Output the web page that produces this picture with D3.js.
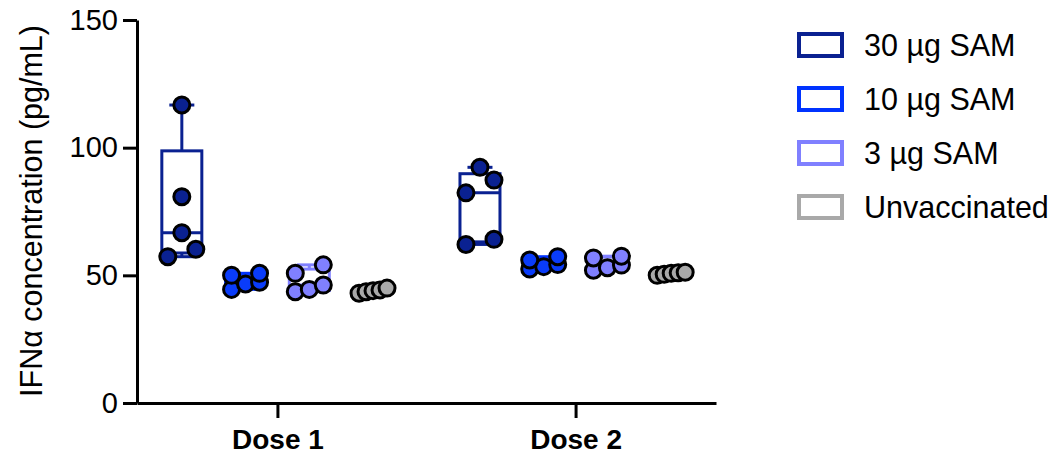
<!DOCTYPE html>
<html>
<head>
<meta charset="utf-8">
<script src="https://cdn.jsdelivr.net/npm/d3@7"></script>
<style>
  body { margin: 0; background: #fff; }
  svg { display: block; font-family: Arial, "Liberation Sans", Helvetica, sans-serif; }
</style>
</head>
<body>
<div class="div-chart"></div>
<script>
// categories
const doses = ["Dose 1", "Dose 2"];
const groups = ["30 µg SAM", "10 µg SAM", "3 µg SAM", "Unvaccinated"];
const yTicks = [0, 50, 100, 150];

// IFNa values (pg/mL), one list of 5 animals per group
const dose1Values = [
  [116.7, 80.8, 66.7, 60.2, 57.3],
  [50.8, 50.0, 47.3, 46.6, 44.5],
  [54.1, 50.8, 46.2, 44.5, 43.6],
  [45.0, 44.3, 44.0, 43.6, 43.0]
];
const dose2Values = [
  [92.3, 87.3, 82.3, 64.1, 62.1],
  [57.3, 56.0, 54.2, 53.4, 52.5],
  [57.5, 56.8, 54.0, 53.0, 52.0],
  [51.2, 51.0, 50.8, 50.4, 50.0]
];

const boxColors = ["#0A2191", "#0033FF", "#8080FF", "#A9A9A9"];
const dotColors = ["#0A2191", "#0A3CFA", "#8080FF", "#A9A9A9"];

const width = 1057,
  height = 457;

const svg = d3
  .select(".div-chart")
  .append("svg")
  .attr("width", width)
  .attr("height", height)
  .attr("viewBox", `0 0 ${width} ${height}`);

const y = d3.scaleLinear().domain([0, 150]).range([403, 20]);
const x = d3.scalePoint().domain(doses).range([137, 716]).padding(0.471);
const xInner = d3.scalePoint().domain(groups).range([-95.6, 95.6]);
const color = d3.scaleOrdinal().domain(groups).range(boxColors);
const dotColor = d3.scaleOrdinal().domain(groups).range(dotColors);

// prism-like quartiles ((n+1)p interpolation)
function quantile(sorted, p) {
  const h = (sorted.length + 1) * p - 1;
  const lo = Math.max(0, Math.floor(h)),
    hi = Math.min(sorted.length - 1, Math.ceil(h));
  return sorted[lo] + (sorted[hi] - sorted[lo]) * (h - lo);
}

// build table from the arrays
const table = [];
[dose1Values, dose2Values].forEach((vals, di) => {
  vals.forEach((v, gi) => {
    const s = v.slice().sort((a, b) => a - b);
    table.push({
      dose: doses[di],
      group: groups[gi],
      values: s,
      min: s[0],
      q1: quantile(s, 0.25),
      med: quantile(s, 0.5),
      q3: quantile(s, 0.75),
      max: s[s.length - 1]
    });
  });
});

const boxW = 40,
  capW = 25,
  spread = 14,
  binH = 8,
  dotD = 17;

// spread points that sit close together sideways
function layoutDots(d) {
  const cx = x(d.dose) + xInner(d.group);
  const rows = [];
  d.values.forEach((v) => {
    const py = y(v);
    const last = rows[rows.length - 1];
    const gap = last ? last[0].py - py : Infinity;
    if (last && (gap < binH || (last.length === 1 && gap < dotD))) last.push({ v, py });
    else rows.push([{ v, py }]);
  });
  const out = [];
  rows.forEach((row) => {
    row.forEach((p, i) => {
      const off = row.length === 1 ? 0 : -spread + (i * 2 * spread) / (row.length - 1);
      out.push({ group: d.group, cx: cx + off, cy: p.py });
    });
  });
  return out;
}

const plotG = svg.append("g").attr("id", "plot");

const boxG = plotG
  .selectAll(".box")
  .data(table)
  .join("g")
  .attr("class", "box")
  .attr("transform", (d) => `translate(${x(d.dose) + xInner(d.group)},0)`)
  .attr("stroke", (d) => color(d.group))
  .attr("stroke-width", 3)
  .attr("fill", "none");

// whiskers
boxG.append("line").attr("y1", (d) => y(d.max)).attr("y2", (d) => y(d.q3));
boxG.append("line").attr("y1", (d) => y(d.min)).attr("y2", (d) => y(d.q1));
boxG.append("line").attr("x1", -capW / 2).attr("x2", capW / 2)
  .attr("y1", (d) => y(d.max)).attr("y2", (d) => y(d.max));
boxG.append("line").attr("x1", -capW / 2).attr("x2", capW / 2)
  .attr("y1", (d) => y(d.min)).attr("y2", (d) => y(d.min));
boxG.append("rect")
  .attr("x", -boxW / 2)
  .attr("width", boxW)
  .attr("y", (d) => y(d.q3))
  .attr("height", (d) => y(d.q1) - y(d.q3));
boxG.append("line").attr("x1", -boxW / 2).attr("x2", boxW / 2)
  .attr("y1", (d) => y(d.med)).attr("y2", (d) => y(d.med));

// dots
plotG
  .append("g")
  .attr("id", "dots")
  .selectAll("circle")
  .data(table.flatMap(layoutDots))
  .join("circle")
  .attr("cx", (d) => d.cx)
  .attr("cy", (d) => d.cy)
  .attr("r", 8)
  .attr("fill", (d) => dotColor(d.group))
  .attr("stroke", "#000")
  .attr("stroke-width", 3);

// axes
const yAxis = svg
  .append("g")
  .attr("transform", "translate(137,0)")
  .call(d3.axisLeft(y).tickValues(yTicks).tickSize(14).tickSizeOuter(0).tickPadding(5));
yAxis.selectAll("path, line").attr("stroke", "#000").attr("stroke-width", 3);
yAxis.selectAll("text").attr("font-size", 29).attr("fill", "#000")
  .attr("font-family", "Arial, 'Liberation Sans', sans-serif");

const xAxis = svg
  .append("g")
  .attr("transform", "translate(0,403)")
  .call(d3.axisBottom(x).tickSize(15).tickSizeOuter(0).tickPadding(11));
xAxis.selectAll("path, line").attr("stroke", "#000").attr("stroke-width", 3);
xAxis.selectAll("text").attr("font-size", 28).attr("font-weight", "bold").attr("fill", "#000")
  .attr("font-family", "Arial, 'Liberation Sans', sans-serif");

svg
  .append("text")
  .attr("transform", "translate(42,211) rotate(-90)")
  .attr("text-anchor", "middle")
  .attr("font-size", 30.5)
  .text("IFNα concentration (pg/mL)");

// legend
const legend = svg
  .append("g")
  .selectAll("g")
  .data(groups)
  .join("g")
  .attr("transform", (d, i) => `translate(799,${45 + i * 54})`);

legend
  .append("rect")
  .attr("x", 0)
  .attr("y", -11)
  .attr("width", 43)
  .attr("height", 22)
  .attr("fill", "none")
  .attr("stroke", (d) => color(d))
  .attr("stroke-width", 4);

legend
  .append("text")
  .attr("x", 65)
  .attr("y", 11)
  .attr("font-size", 30.5)
  .text((d) => d);
</script>
</body>
</html>
